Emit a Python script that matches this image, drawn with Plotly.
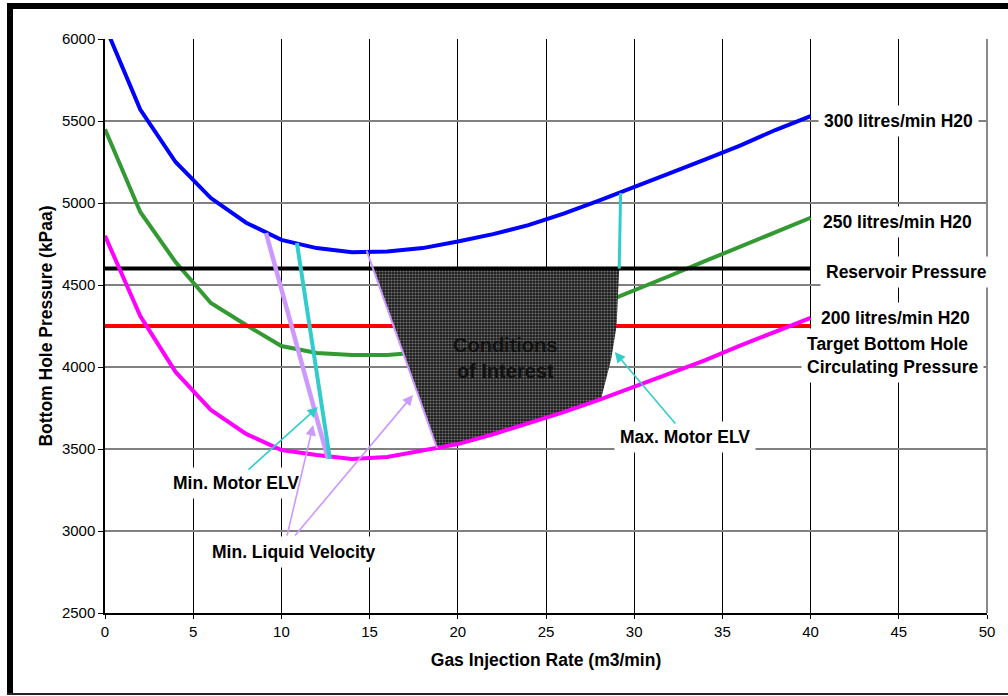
import plotly.graph_objects as go
import numpy as np

# ---------------- data ----------------
gas_rate = [0, 2, 4, 6, 8, 10, 12, 14, 16, 18, 20, 22, 24, 26, 28, 30, 32, 34, 36, 38, 40]
bhp_300 = [6080, 5570, 5250, 5030, 4880, 4775, 4725, 4700, 4705, 4725, 4765, 4810, 4865,
           4935, 5015, 5095, 5180, 5265, 5350, 5445, 5530]
bhp_250 = [5450, 4945, 4640, 4390, 4256, 4128, 4085, 4073, 4073, 4090, 4120, 4160, 4215,
           4285, 4380, 4465, 4555, 4645, 4735, 4825, 4910]
bhp_200 = [4800, 4311, 3970, 3738, 3592, 3494, 3463, 3439, 3451, 3488, 3530, 3590, 3655,
           3725, 3800, 3880, 3960, 4040, 4130, 4215, 4300]

reservoir_x = [0, 40]
reservoir_p = [4600, 4600]
target_x = [0, 40]
target_p = [4250, 4250]

min_liq_x = [9.13, 12.64]
min_liq_p = [4817, 3439]
min_motor_x = [10.88, 12.75]
min_motor_p = [4756, 3439]
max_motor_x = [29.23, 29.15]
max_motor_p = [5061, 4600]

left_edge_x = [14.83, 18.82]
left_edge_p = [4710, 3506]
right_edge_x = [29.15, 29.0, 28.7, 28.12]
right_edge_p = [4600, 4250, 4050, 3805]

# ---------------- region of interest polygon ----------------
top_left_x = float(np.interp(4600, left_edge_p[::-1], left_edge_x[::-1]))
bottom_x = [x for x in gas_rate if left_edge_x[1] < x < right_edge_x[-1]][::-1]
bottom_p = [bhp_200[gas_rate.index(x)] for x in bottom_x]
poly_x = [top_left_x] + right_edge_x + bottom_x + [left_edge_x[1], top_left_x]
poly_p = [4600] + right_edge_p + bottom_p + [left_edge_p[1], 4600]

FONT = "Arial, 'Liberation Sans', sans-serif"
BLUE = "#0000FF"
GREEN = "#339933"
MAGENTA = "#FF00FF"
RED = "#FF0000"
CYAN = "#33CCCC"
LAV = "#CC99FF"

fig = go.Figure()

def line(x, y, color, width, name):
    fig.add_trace(go.Scatter(x=x, y=y, mode="lines", name=name,
                             line=dict(color=color, width=width), hoverinfo="skip"))

line(gas_rate, bhp_300, BLUE, 4, "300 litres/min H20")
line(gas_rate, bhp_250, GREEN, 4, "250 litres/min H20")
line(target_x, target_p, RED, 4, "Target")

fig.add_trace(go.Scatter(x=poly_x, y=poly_p, mode="lines", fill="toself",
                         line=dict(width=0, color="#333"),
                         fillcolor="#3a3a3a",
                         fillpattern=dict(shape=".", bgcolor="#1a1a1a", fgcolor="#d0d0d0",
                                          size=3, solidity=0.4),
                         hoverinfo="skip", name="Conditions of Interest"))

line(reservoir_x, reservoir_p, "#000000", 4, "Reservoir Pressure")
line(gas_rate, bhp_200, MAGENTA, 4, "200 litres/min H20")
line(max_motor_x, max_motor_p, CYAN, 3, "Max. Motor ELV")
line(left_edge_x, left_edge_p, LAV, 2, "Min. Liquid Velocity edge")
line(min_liq_x, min_liq_p, LAV, 4.5, "Min. Liquid Velocity")
line(min_motor_x, min_motor_p, CYAN, 4, "Min. Motor ELV")

# ---------------- annotations ----------------
def label(x, y, text, anchor="left", size=17.5):
    fig.add_annotation(x=x, y=y, xref="x", yref="y", text="<b>" + text + "</b>",
                       showarrow=False, xanchor=anchor, yanchor="middle", align="left",
                       font=dict(family=FONT, size=size, color="#000"),
                       bgcolor="#FFFFFF", borderpad=5)

label(40.4, 5500, "300 litres/min H20")
label(40.35, 4884, "250 litres/min H20")
label(40.55, 4579, "Reservoir Pressure")
label(40.25, 4299, "200 litres/min H20")
label(39.45, 4073, "Target Bottom Hole<br>Circulating Pressure")
label(7.4, 3293, "Min. Motor ELV", anchor="center")
label(10.7, 2872, "Min. Liquid Velocity", anchor="center")
label(32.9, 3573, "Max. Motor ELV", anchor="center")

fig.add_annotation(x=22.7, y=4055, xref="x", yref="y",
                   text="<b>Conditions<br>of Interest</b>", showarrow=False,
                   font=dict(family=FONT, size=20, color="#111"), align="center")

def arrow(tx, ty, hx, hy, color):
    fig.add_annotation(x=hx, y=hy, ax=tx, ay=ty, xref="x", yref="y", axref="x", ayref="y",
                       text="", showarrow=True, arrowhead=2, arrowsize=1.3,
                       arrowwidth=1.6, arrowcolor=color)

arrow(8.05, 3366, 12.07, 3756, CYAN)
arrow(10.3, 2963, 11.8, 3646, LAV)
arrow(10.7, 2963, 17.46, 3829, LAV)
arrow(32.4, 3646, 28.9, 4091, CYAN)

# ---------------- frame ----------------
def px_x(p):
    return (p - 105) / 882.0

def px_y(p):
    return (613 - p) / 574.0

fig.add_shape(type="rect", xref="paper", yref="paper", x0=px_x(7), x1=px_x(13),
              y0=px_y(694), y1=px_y(3), fillcolor="#000", line=dict(width=0))
fig.add_shape(type="rect", xref="paper", yref="paper", x0=px_x(7), x1=px_x(1010),
              y0=px_y(9), y1=px_y(3), fillcolor="#000", line=dict(width=0))
fig.add_shape(type="line", xref="paper", yref="paper", x0=px_x(7), x1=px_x(1010),
              y0=px_y(694), y1=px_y(694), line=dict(color="#222", width=2))
fig.add_shape(type="line", xref="paper", yref="paper", x0=1, x1=1, y0=0, y1=1,
              line=dict(color="#888", width=2))

fig.update_layout(
    width=1008, height=696,
    margin=dict(l=105, r=21, t=39, b=83),
    paper_bgcolor="#FFFFFF", plot_bgcolor="#FFFFFF",
    showlegend=False,
    font=dict(family=FONT, size=15, color="#000"),
)
fig.update_xaxes(range=[0, 50], dtick=5, tick0=0, showgrid=True, gridcolor="#000",
                 gridwidth=1, showline=True, linecolor="#000", linewidth=2,
                 ticks="outside", ticklen=4, tickcolor="#000", zeroline=False,
                 tickfont=dict(family=FONT, size=15),
                 title=dict(text="<b>Gas Injection Rate (m3/min)</b>",
                            font=dict(family=FONT, size=17.5), standoff=15))
fig.update_yaxes(range=[2500, 6000], dtick=500, tick0=2500, showgrid=True, gridcolor="#808080",
                 gridwidth=1.5, showline=True, linecolor="#000", linewidth=1.5,
                 ticks="outside", ticklen=5, tickcolor="#000", zeroline=False,
                 tickfont=dict(family=FONT, size=15),
                 title=dict(text="<b>Bottom Hole Pressure (kPaa)</b>",
                            font=dict(family=FONT, size=17.5), standoff=5))

fig.write_html("out.html", config={"displayModeBar": False},
               post_script="document.body.style.margin='0';document.body.style.overflow='hidden';")
